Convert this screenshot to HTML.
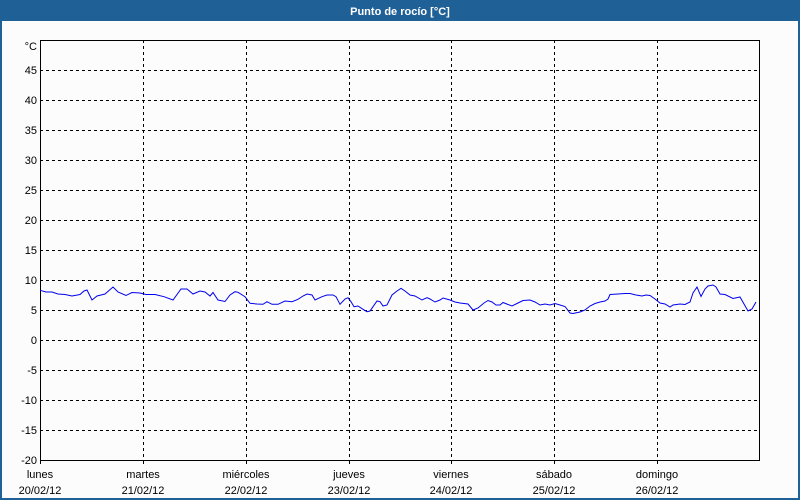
<!DOCTYPE html>
<html><head><meta charset="utf-8"><style>
html,body{margin:0;padding:0;width:800px;height:500px;overflow:hidden;background:#fff}
</style></head><body>
<svg width="800" height="500" xmlns="http://www.w3.org/2000/svg" font-family="Liberation Sans, sans-serif" font-size="11">
<rect x="0" y="0" width="800" height="500" fill="#fcfcfc"/>
<rect x="0" y="0" width="800" height="21" fill="#1f6097"/>
<rect x="0" y="0" width="2" height="500" fill="#1f6097"/>
<rect x="798" y="0" width="2" height="500" fill="#1f6097"/>
<rect x="0" y="498" width="800" height="2" fill="#1f6097"/>
<text x="400" y="15" fill="#fff" font-weight="bold" text-anchor="middle" font-size="11">Punto de rocío [°C]</text>
<g stroke="#000" stroke-dasharray="3,3" stroke-width="1">
<line x1="40" x2="760" y1="70.5" y2="70.5"/><line x1="40" x2="760" y1="100.5" y2="100.5"/>
<line x1="40" x2="760" y1="130.5" y2="130.5"/><line x1="40" x2="760" y1="160.5" y2="160.5"/>
<line x1="40" x2="760" y1="190.5" y2="190.5"/><line x1="40" x2="760" y1="220.5" y2="220.5"/>
<line x1="40" x2="760" y1="250.5" y2="250.5"/><line x1="40" x2="760" y1="280.5" y2="280.5"/>
<line x1="40" x2="760" y1="310.5" y2="310.5"/><line x1="40" x2="760" y1="340.5" y2="340.5"/>
<line x1="40" x2="760" y1="370.5" y2="370.5"/><line x1="40" x2="760" y1="400.5" y2="400.5"/>
<line x1="40" x2="760" y1="430.5" y2="430.5"/>
<line x1="143.5" x2="143.5" y1="40" y2="460"/><line x1="246.5" x2="246.5" y1="40" y2="460"/>
<line x1="349.5" x2="349.5" y1="40" y2="460"/><line x1="451.5" x2="451.5" y1="40" y2="460"/>
<line x1="554.5" x2="554.5" y1="40" y2="460"/><line x1="657.5" x2="657.5" y1="40" y2="460"/>
</g>
<rect x="40.5" y="40.5" width="719" height="420" fill="none" stroke="#000"/>
<g stroke="#000"><line x1="143.5" x2="143.5" y1="460" y2="464"/><line x1="246.5" x2="246.5" y1="460" y2="464"/><line x1="349.5" x2="349.5" y1="460" y2="464"/><line x1="451.5" x2="451.5" y1="460" y2="464"/><line x1="554.5" x2="554.5" y1="460" y2="464"/><line x1="657.5" x2="657.5" y1="460" y2="464"/><line x1="40.5" x2="40.5" y1="460" y2="464"/></g>
<g text-anchor="end" fill="#000">
<text x="37" y="50">°C</text><text x="37" y="74">45</text><text x="37" y="104">40</text><text x="37" y="134">35</text>
<text x="37" y="164">30</text><text x="37" y="194">25</text><text x="37" y="224">20</text><text x="37" y="254">15</text>
<text x="37" y="284">10</text><text x="37" y="314">5</text><text x="37" y="344">0</text><text x="37" y="374">-5</text>
<text x="37" y="404">-10</text><text x="37" y="434">-15</text><text x="37" y="464">-20</text>
</g>
<g text-anchor="middle" fill="#000">
<text x="40" y="478">lunes</text><text x="40" y="494">20/02/12</text>
<text x="143" y="478">martes</text><text x="143" y="494">21/02/12</text>
<text x="246" y="478">miércoles</text><text x="246" y="494">22/02/12</text>
<text x="349" y="478">jueves</text><text x="349" y="494">23/02/12</text>
<text x="451" y="478">viernes</text><text x="451" y="494">24/02/12</text>
<text x="554" y="478">sábado</text><text x="554" y="494">25/02/12</text>
<text x="657" y="478">domingo</text><text x="657" y="494">26/02/12</text>
</g>
<polyline fill="none" stroke="#0000ee" stroke-width="1" points="40,290.3 46,292 52,292 58,294 65,294.5 72,296 80,294.5 84,291 87,290 92,300 97,296 105,294 113,287 118,292 126,295.5 132,292.5 140,293 146,294.5 155,294.5 164,296.7 173,300 181,289 187,289 193,294 200,291 205,292 210,296 213,292.5 218,300 225,301.5 230,295 235,291.7 238,292.3 245,296.7 250,303.3 257,304 263,304.3 267,301.7 272,304.3 278,304.3 285,301 292,301.7 298,299.3 303,296 307,294 312,295 315,300 322,296.7 327,295 333,295 336,296.7 340,304.3 345,299 348,297.7 351,301.7 354,306.7 358,306 363,309.3 367,311.7 370,311 373,306.7 377,301 380,301.7 383,306 387,305 392,295 397,291 401,288.3 405,291 410,295 415,296 422,300 427,297.7 430,299 435,302 440,300 443,298 450,300 455,302 460,303 468,304 473,310 478,308 484,303 488,300.5 492,302 496,305 500,305 503,302.5 508,304.5 512,306 518,303 523,300.5 530,300 535,302 540,305 545,304 550,305 555,303.5 560,305 565,306.5 570,313 573,313.5 580,312 585,310 590,306 595,303.5 600,302 605,301 608,299 610,294.5 618,294 625,293.5 630,293.5 636,295 642,296 646,295 650,295.5 655,299 660,303 665,304 670,307 673,305 680,304 685,304.5 690,302 693,293 697,287 701,296.5 705,289 708,286 713,285 716,287 720,294 725,294.5 733,298.5 740,297 748,311 752,309 756,302"/>
</svg>
</body></html>
